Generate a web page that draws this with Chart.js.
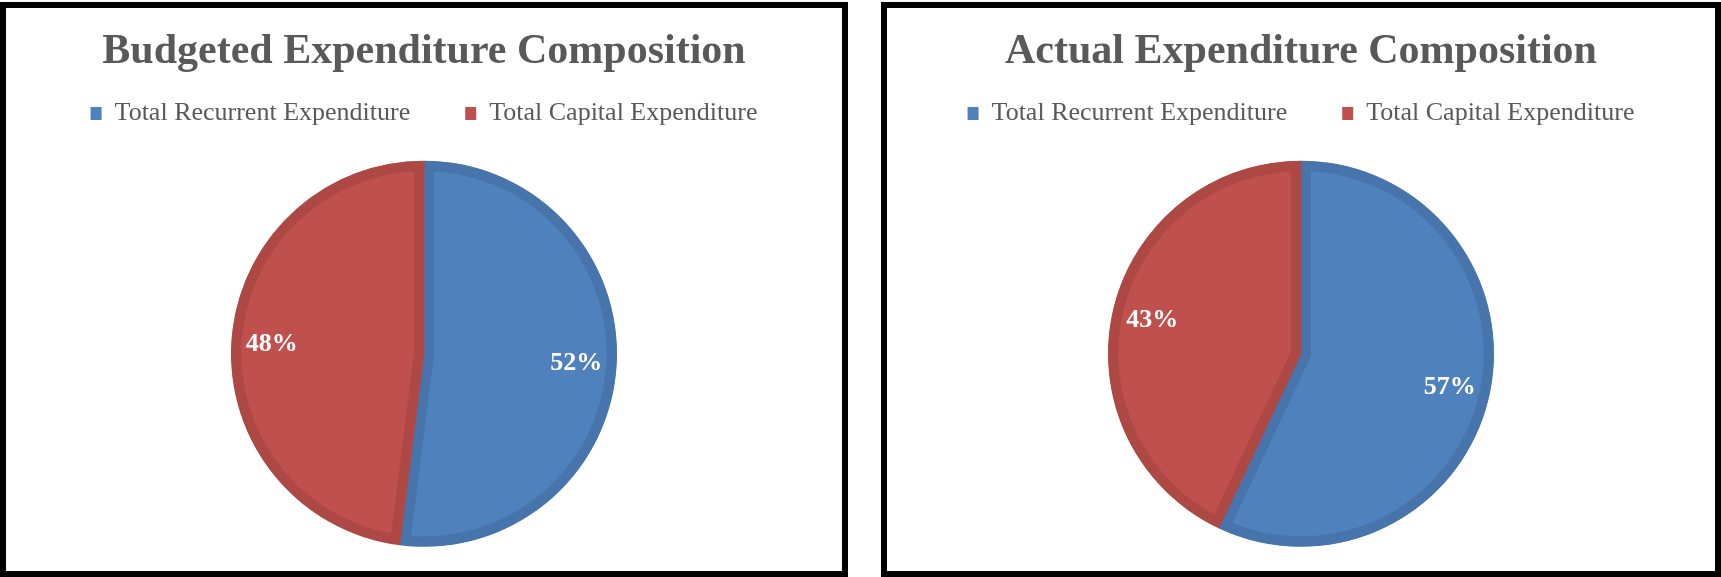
<!DOCTYPE html>
<html>
<head>
<meta charset="utf-8">
<script src="https://cdn.jsdelivr.net/npm/chart.js@4/dist/chart.umd.min.js"></script>
<style>
  body { margin: 0; background: #fff; }
  .box {
    position: absolute;
    top: 2px;
    height: 575px;
    box-sizing: border-box;
    border: 6px solid #000;
    background: #fff;
  }
  #boxLeft { left: 0; width: 848px; }
  #boxRight { left: 881px; width: 840px; }
  canvas { display: block; }
</style>
</head>
<body>
<div class="box" id="boxLeft"><canvas id="grafikBudget"></canvas></div>
<div class="box" id="boxRight"><canvas id="grafikActual"></canvas></div>
<script>
const kategori = ['Total Recurrent Expenditure', 'Total Capital Expenditure'];
const persenBudget = [52, 48];
const persenActual = [57, 43];
const judulBudget = 'Budgeted Expenditure Composition';
const judulActual = 'Actual Expenditure Composition';

const warnaIsi = ['#4f81bd', '#c0504d'];
const warnaTepi = ['#4674ab', '#ad4845'];

// label persen di dalam irisan, dekat tepi luar
const labelPersen = {
  id: 'labelPersen',
  afterDatasetsDraw(chart) {
    const ctx = chart.ctx;
    const data = chart.data.datasets[0].data;
    const total = data.reduce((a, b) => a + b, 0);
    const meta = chart.getDatasetMeta(0);
    ctx.save();
    ctx.font = 'bold 26px "Liberation Serif"';
    ctx.fillStyle = '#ffffff';
    ctx.textAlign = 'center';
    ctx.textBaseline = 'middle';
    meta.data.forEach((arc, i) => {
      const p = arc.getProps(['x', 'y', 'startAngle', 'endAngle', 'outerRadius'], true);
      const mid = (p.startAngle + p.endAngle) / 2;
      const r = p.outerRadius * 0.79;
      const teks = Math.round(data[i] / total * 100) + '%';
      ctx.fillText(teks, p.x + Math.cos(mid) * r, p.y + Math.sin(mid) * r);
    });
    ctx.restore();
  }
};

function buatPie(id, judul, nilai, lebar) {
  const canvas = document.getElementById(id);
  canvas.width = lebar;
  canvas.height = 563;
  canvas.style.width = lebar + 'px';
  canvas.style.height = '563px';
  return new Chart(canvas.getContext('2d'), {
    type: 'pie',
    data: {
      labels: kategori,
      datasets: [{
        data: nilai,
        backgroundColor: warnaIsi,
        borderColor: warnaTepi,
        borderWidth: 10,
        borderAlign: 'inner',
        radius: 193,
        clip: false
      }]
    },
    options: {
      responsive: false,
      animation: false,
      layout: { padding: { top: 0, bottom: 0 } },
      plugins: {
        title: {
          display: true,
          text: judul,
          color: '#595959',
          font: { family: '"Liberation Serif"', size: 42, weight: 'bold' },
          padding: { top: 19, bottom: -32 }
        },
        legend: {
          position: 'top',
          labels: {
            color: '#595959',
            font: { family: '"Liberation Serif"', size: 26 },
            boxWidth: 11,
            boxHeight: 13,
            padding: 55,
            generateLabels(chart) {
              const items = Chart.controllers.pie.overrides.plugins.legend.labels.generateLabels(chart);
              items.forEach(it => { it.lineWidth = 0; });
              return items;
            }
          }
        },
        tooltip: { enabled: false }
      }
    },
    plugins: [labelPersen]
  });
}

buatPie('grafikBudget', judulBudget, persenBudget, 836);
buatPie('grafikActual', judulActual, persenActual, 828);
</script>
</body>
</html>
